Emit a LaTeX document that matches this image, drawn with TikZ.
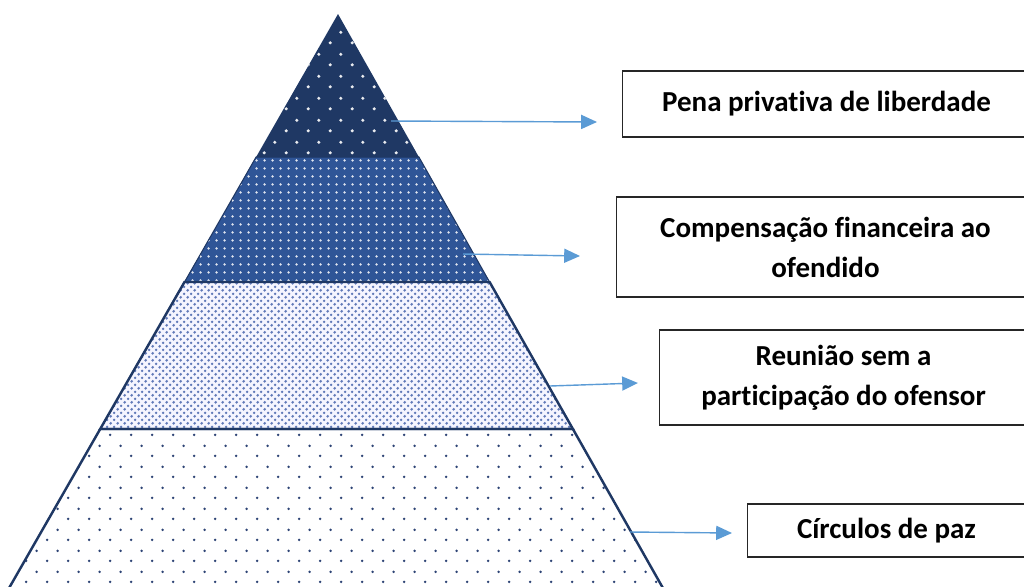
\documentclass[tikz,border=0pt]{standalone}
\usepackage{fontspec}
\setmainfont{Carlito}[Ligatures=NoCommon]
\usetikzlibrary{arrows.meta, patterns}

\definecolor{navy}{HTML}{1F3864}
\definecolor{midblue}{HTML}{2F5597}
\definecolor{arrowblue}{HTML}{5B9BD5}
\definecolor{dotblue}{HTML}{6079B8}
\definecolor{dotnavy}{HTML}{2E4475}

% dot tiles for the four layers (sizes in pt)
\pgfdeclarepatternformonly{sparsedots}{\pgfpointorigin}{\pgfpoint{12.3pt}{12.2pt}}{\pgfpoint{12.3pt}{12.2pt}}{%
  \pgfpathcircle{\pgfpoint{3pt}{3pt}}{1pt}%
  \pgfpathcircle{\pgfpoint{9.15pt}{9.1pt}}{1pt}%
  \pgfusepath{fill}}
\pgfdeclarepatternformonly{densedots}{\pgfpointorigin}{\pgfpoint{4.3pt}{4.3pt}}{\pgfpoint{4.3pt}{4.3pt}}{%
  \pgfpathcircle{\pgfpoint{2.15pt}{2.15pt}}{0.8pt}%
  \pgfusepath{fill}}
\pgfdeclarepatternformonly{finedots}{\pgfpointorigin}{\pgfpoint{4.2pt}{4.2pt}}{\pgfpoint{4.2pt}{4.2pt}}{%
  \pgfpathcircle{\pgfpoint{1.05pt}{1.05pt}}{0.9pt}%
  \pgfpathcircle{\pgfpoint{3.15pt}{3.15pt}}{0.8pt}%
  \pgfusepath{fill}}
\pgfdeclarepatternformonly{widedots}{\pgfpointorigin}{\pgfpoint{12.2pt}{12pt}}{\pgfpoint{12.2pt}{12pt}}{%
  \pgfpathcircle{\pgfpoint{3pt}{3pt}}{0.8pt}%
  \pgfpathcircle{\pgfpoint{9.1pt}{9pt}}{0.8pt}%
  \pgfusepath{fill}}

\begin{document}
\begin{tikzpicture}[x=0.02cm, y=-0.02cm,
    box/.style={draw=black!85, line width=0.6pt, anchor=west, align=center,
      inner sep=0pt, font=\bfseries\fontsize{16.5}{22.7}\selectfont},
    arr/.style={draw=arrowblue, line width=0.8pt, -{Triangle[length=9pt, width=8pt]}}]
    \useasboundingbox (0,0) rectangle (1024,586);
    \clip (0,0) rectangle (1024,586);

    \coordinate (apex) at (338,14);
    \coordinate (l1) at (256.1,157);
    \coordinate (r1) at (418.9,157);
    \coordinate (l2) at (184.5,282);
    \coordinate (r2) at (489.6,282);
    \coordinate (l3) at (100.2,429);
    \coordinate (r3) at (572.9,429);
    \coordinate (l4) at (2.2,600);
    \coordinate (r4) at (669.7,600);

    % layers, from the base up
    \path[fill=white, pattern=widedots, pattern color=dotnavy] (l3) -- (r3) -- (r4) -- (l4) -- cycle;
    \path[preaction={fill=blue!4}, pattern=finedots, pattern color=dotblue] (l2) -- (r2) -- (r3) -- (l3) -- cycle;
    \path[preaction={fill=midblue}, pattern=densedots, pattern color=white!85!midblue] (l1) -- (r1) -- (r2) -- (l2) -- cycle;
    \path[preaction={fill=navy}, pattern=sparsedots, pattern color=white!90!navy] (apex) -- (r1) -- (l1) -- cycle;

    \draw[navy, line width=0.6pt] (l1) -- (r1) -- (r2) -- (l2) -- cycle;
    \draw[navy, line width=1.4pt] (l2) -- (r2) -- (r3) -- (l3) -- cycle;
    \draw[navy, line width=1.4pt] (l3) -- (r3) -- (r4) -- (l4) -- cycle;

    \node[box, minimum width=8.16cm, minimum height=1.32cm] (pena) at (622,104) {Pena privativa de liberdade};
    \node[box, minimum width=8.36cm, minimum height=2cm] (comp) at (616,247) {Compensação financeira ao\\ofendido};
    \node[box, minimum width=7.36cm, minimum height=1.9cm] (reun) at (659,377.5) {Reunião sem a\\participação do ofensor};
    \node[box, minimum width=5.56cm, minimum height=1.06cm] (circ) at (747,530.5) {Círculos de paz};

    \coordinate (s1) at (391,121);
    \coordinate (t1) at (597,122);
    \coordinate (s2) at (463,254);
    \coordinate (t2) at (580,256);
    \coordinate (s3) at (550,386);
    \coordinate (t3) at (638,383);
    \coordinate (s4) at (630,532);
    \coordinate (t4) at (732,533);
    \draw[arr] (s1) -- (t1);
    \draw[arr] (s2) -- (t2);
    \draw[arr] (s3) -- (t3);
    \draw[arr] (s4) -- (t4);
\end{tikzpicture}
\end{document}
